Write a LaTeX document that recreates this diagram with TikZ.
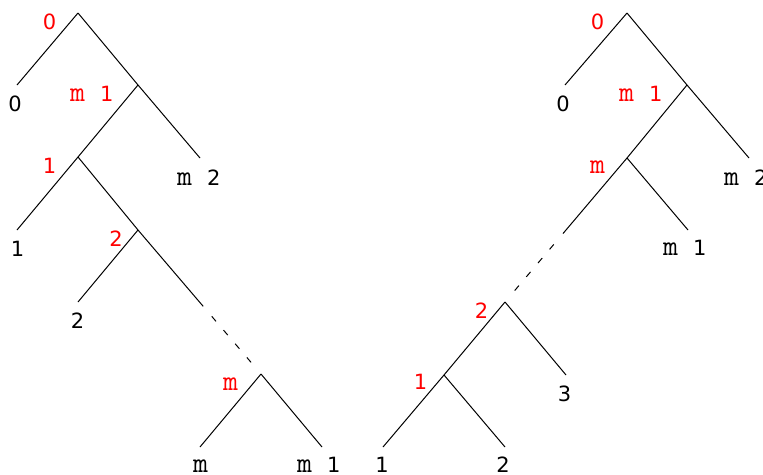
\documentclass[tikz,border=0pt]{standalone}
\usepackage{fontspec}
\setmainfont{DejaVu Sans}
\usetikzlibrary{calc}
\newcommand\mglyph{{\fontsize{29}{29}\selectfont\ttfamily m}}
\newcommand\mletter{{\fontsize{29}{29}\selectfont\ttfamily m }}
\begin{document}
\begin{tikzpicture}[x=1pt,y=-1pt,
  br/.style={line width=1pt, line cap=butt},
  dsh/.style={line width=1pt, dash pattern=on 6.5pt off 11.5pt},
  lab/.style={inner sep=0pt, font=\fontsize{21}{21}\selectfont, anchor=base},
  mlab/.style={inner sep=0pt, font=\fontsize{21}{21}\selectfont, anchor=base west},
  rl/.style={text=red}]
\useasboundingbox (0,0) rectangle (763,474);
% ---------- left tree ----------
\coordinate (LA) at (78,13);
\coordinate (LA0) at (17,85);
\coordinate (LB) at (138,85);
\coordinate (LB2) at (200,158);
\coordinate (LC) at (78,157);
\coordinate (LC1) at (17,230);
\coordinate (LD) at (138,230);
\coordinate (LD2) at (78,302);
\coordinate (LE) at (261,374);
\coordinate (LEm) at (200,447);
\coordinate (LEm1) at (322,447);
\draw[br] (LA) -- (LA0);
\draw[br] (LA) -- (LB);
\draw[br] (LB) -- (LB2);
\draw[br] (LB) -- (LC);
\draw[br] (LC) -- (LC1);
\draw[br] (LC) -- (LD);
\draw[br] (LD) -- (LD2);
\draw[br] (LD) -- ($(LD)!0.53!(LE)$);
\draw[dsh] ($(LD)!0.60!(LE)$) -- ($(LD)!0.93!(LE)$);
\draw[br] (LE) -- (LEm);
\draw[br] (LE) -- (LEm1);
\node[lab,rl] (la) at (49.5,29) {0};
\node[lab] (la0) at (15,111) {0};
\node[mlab,rl] (lb) at (70,101) {\mletter 1};
\node[mlab] (lb2) at (177,185) {\mletter 2};
\node[lab,rl] (lc) at (49.5,173) {1};
\node[lab] (lc1) at (17.5,256) {1};
\node[lab,rl] (ld) at (116,246) {2};
\node[lab] (ld2) at (77.5,328) {2};
\node[mlab,rl] (le) at (223,390) {\mglyph};
\node[mlab] (lem) at (193,472) {\mglyph};
\node[mlab] (lem1) at (297,472) {\mletter 1};
% ---------- right tree ----------
\coordinate (RA) at (627,13);
\coordinate (RA0) at (565,85);
\coordinate (RB) at (687,85);
\coordinate (RB2) at (749,158);
\coordinate (RC) at (627,158);
\coordinate (RC1) at (688,230);
\coordinate (RD) at (505,302);
\coordinate (RD3) at (566,375);
\coordinate (RE) at (444,375);
\coordinate (RE1) at (383,447);
\coordinate (RE2) at (505,447);
\draw[br] (RA) -- (RA0);
\draw[br] (RA) -- (RB);
\draw[br] (RB) -- (RB2);
\draw[br] (RB) -- (RC);
\draw[br] (RC) -- (RC1);
\draw[br] (RC) -- ($(RC)!0.525!(RD)$);
\draw[dsh] ($(RC)!0.60!(RD)$) -- ($(RC)!0.93!(RD)$);
\draw[br] (RD) -- (RD3);
\draw[br] (RD) -- (RE);
\draw[br] (RE) -- (RE1);
\draw[br] (RE) -- (RE2);
\node[lab,rl] (ra) at (597.5,29) {0};
\node[lab] (ra0) at (563,111) {0};
\node[mlab,rl] (rb) at (619,101) {\mletter 1};
\node[mlab] (rb2) at (724,185) {\mletter 2};
\node[mlab,rl] (rc) at (590,173) {\mglyph};
\node[mlab] (rc1) at (663,255) {\mletter 1};
\node[lab,rl] (rd) at (481.5,318) {2};
\node[lab] (rd3) at (564.5,401) {3};
\node[lab,rl] (re) at (420.5,389) {1};
\node[lab] (re1) at (382,472) {1};
\node[lab] (re2) at (503,472) {2};
\end{tikzpicture}
\end{document}
